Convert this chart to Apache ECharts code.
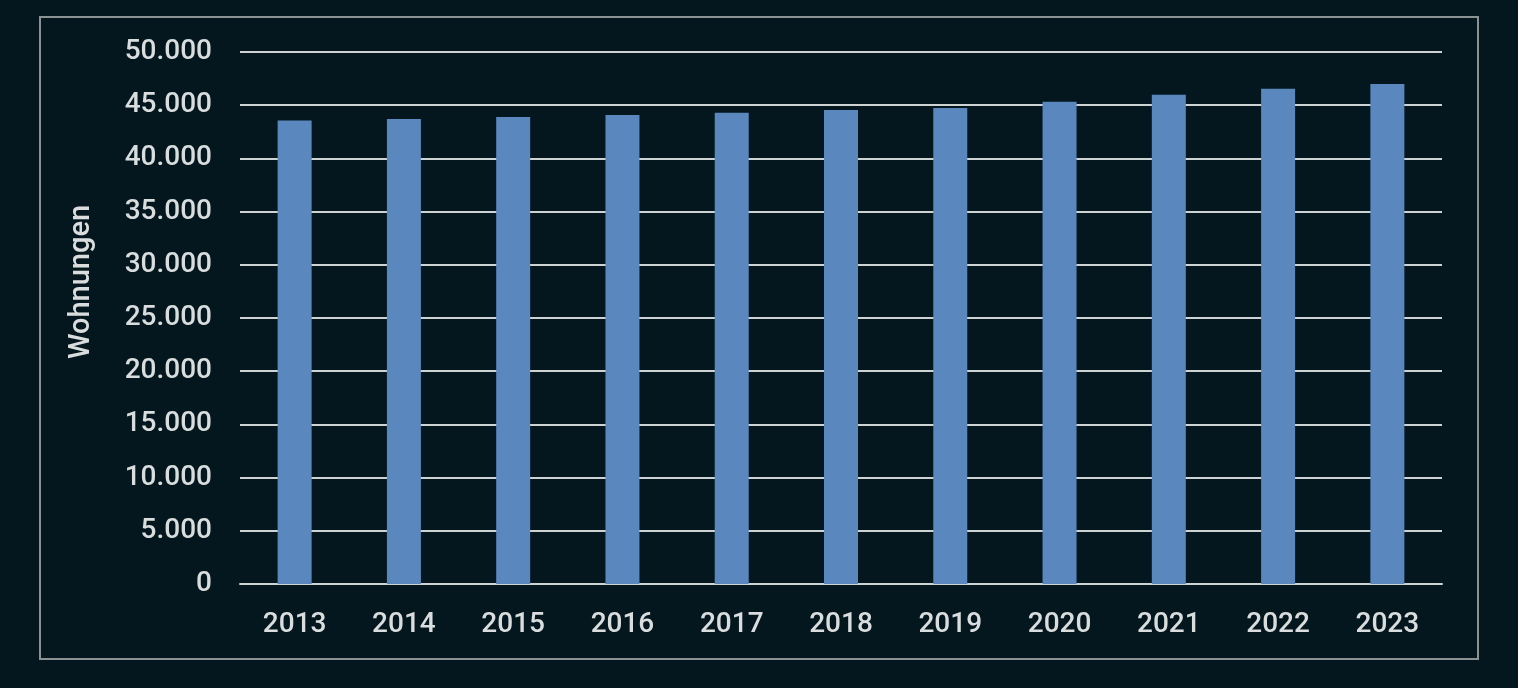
<!doctype html>
<html>
<head>
  <meta charset="UTF-8" />
  <title>Wohnungen</title>
  <script src="https://cdn.jsdelivr.net/npm/echarts@6.0.0/dist/echarts.min.js"></script>
  <style>
    html, body {
      margin: 0;
      padding: 0;
      background-color: #05171e;
    }

    #chart {
      width: 1518px;
      height: 688px;
    }
  </style>
</head>

<body>
  <div id="chart"></div>

  <script>
    const years = ["2013", "2014", "2015", "2016", "2017", "2018", "2019", "2020", "2021", "2022", "2023"];
    const wohnungen = [43570, 43700, 43890, 44080, 44300, 44550, 44740, 45330, 45990, 46550, 46990];
    const yMin = 0;
    const yMax = 50000;
    const yStep = 5000;

    const textColor = "#d9dddd";
    const lineColor = "#cdd2d2";

    const chart = echarts.init(document.getElementById("chart"));

    // Zahlen mit Punkt als Tausendertrenner (deutsch)
    const formatDe = (v) => v.toLocaleString("de-DE");

    const option = {
      backgroundColor: "#05171e",
      animation: false,
      grid: {
        left: 240,
        right: 76,
        top: 52,
        bottom: 104,
      },
      graphic: [
        {
          type: "rect",
          shape: { x: 40, y: 17, width: 1438, height: 642 },
          style: { fill: "none", stroke: "#8c9293", lineWidth: 2 },
          silent: true,
        },
        {
          type: "text",
          x: 82,
          y: 282,
          rotation: Math.PI / 2,
          style: {
            text: "Wohnungen",
            fill: textColor,
            font: "500 29px Roboto",
            align: "center",
            verticalAlign: "middle",
          },
          silent: true,
        },
      ],
      xAxis: {
        type: "category",
        data: years,
        axisLine: { show: true, lineStyle: { color: lineColor, width: 2 } },
        axisTick: { show: false },
        axisLabel: {
          color: textColor,
          fontFamily: "Roboto",
          fontWeight: 500,
          fontSize: 28,
          margin: 27,
        },
      },
      yAxis: {
        type: "value",
        min: yMin,
        max: yMax,
        interval: yStep,
        axisLine: { show: false },
        axisTick: { show: false },
        axisLabel: {
          color: textColor,
          fontFamily: "Roboto",
          fontWeight: 500,
          fontSize: 28,
          margin: 28,
          formatter: formatDe,
        },
        splitLine: { show: true, lineStyle: { color: lineColor, width: 2 } },
      },
      series: [
        {
          name: "Wohnungen",
          type: "bar",
          data: wohnungen,
          barWidth: 34,
          itemStyle: { color: "#5a87be" },
        },
      ],
    };

    chart.setOption(option);
  </script>
</body>
</html>
